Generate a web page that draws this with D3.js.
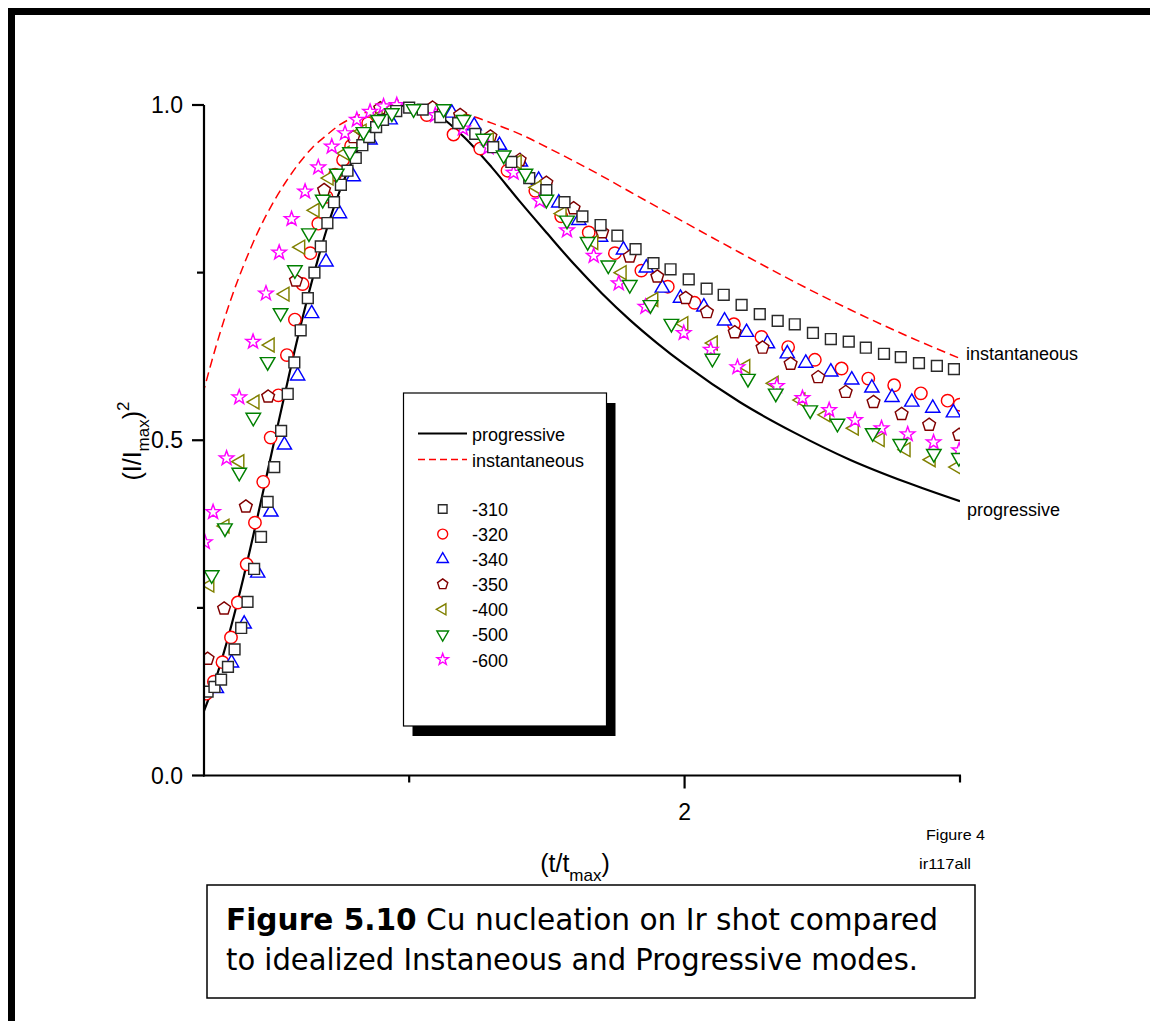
<!DOCTYPE html>
<html>
<head>
<meta charset="utf-8">
<script src="https://cdn.jsdelivr.net/npm/d3@7"></script>
<style>
  html, body { margin: 0; padding: 0; background: #fff; }
  svg { display: block; }
  text { font-family: "Liberation Sans", Arial, Helvetica, sans-serif; fill: #000; }
</style>
</head>
<body>
<svg id="chart" width="1156" height="1021"></svg>
<script>
// Normalised chronoamperometric transients, (t/tmax, (I/Imax)^2)
const seriesLabels = ["-310", "-320", "-340", "-350", "-400", "-500", "-600"];

const s310 = [[0.268,0.125],[0.293,0.132],[0.317,0.143],[0.342,0.162],[0.366,0.188],[0.390,0.220],[0.413,0.259],[0.437,0.308],[0.462,0.356],[0.486,0.408],[0.510,0.460],[0.535,0.514],[0.559,0.569],[0.583,0.616],[0.606,0.664],[0.632,0.712],[0.656,0.750],[0.679,0.789],[0.703,0.824],[0.727,0.855],[0.752,0.881],[0.776,0.902],[0.806,0.921],[0.830,0.940],[0.855,0.952],[0.880,0.967],[0.905,0.978],[0.953,0.991],[1.000,0.996],[1.049,0.993],[1.113,0.982],[1.178,0.973],[1.240,0.957],[1.305,0.937],[1.371,0.915],[1.436,0.891],[1.498,0.873],[1.564,0.855],[1.629,0.834],[1.695,0.821],[1.756,0.805],[1.822,0.785],[1.887,0.764],[1.949,0.755],[2.015,0.740],[2.080,0.726],[2.142,0.717],[2.207,0.702],[2.273,0.688],[2.338,0.678],[2.400,0.673],[2.466,0.660],[2.531,0.651],[2.596,0.647],[2.658,0.638],[2.724,0.629],[2.785,0.624],[2.851,0.615],[2.916,0.611],[2.978,0.606]];

const s320 = [[0.264,0.122],[0.291,0.140],[0.322,0.169],[0.353,0.206],[0.378,0.258],[0.410,0.315],[0.440,0.377],[0.470,0.438],[0.497,0.504],[0.525,0.567],[0.556,0.627],[0.585,0.680],[0.613,0.733],[0.641,0.779],[0.670,0.823],[0.700,0.863],[0.731,0.896],[0.760,0.918],[0.789,0.939],[0.822,0.955],[0.851,0.973],[0.884,0.983],[0.913,0.992],[1.064,0.985],[1.161,0.956],[1.258,0.935],[1.357,0.902],[1.458,0.872],[1.552,0.834],[1.652,0.810],[1.747,0.779],[1.843,0.753],[1.939,0.729],[2.036,0.705],[2.179,0.673],[2.279,0.654],[2.376,0.639],[2.473,0.620],[2.570,0.607],[2.667,0.592],[2.761,0.582],[2.858,0.570],[2.955,0.559],[2.999,0.553]];

const s340 = [[0.300,0.130],[0.355,0.168],[0.401,0.226],[0.450,0.302],[0.498,0.393],[0.547,0.493],[0.595,0.596],[0.646,0.689],[0.698,0.766],[0.747,0.838],[0.797,0.893],[0.858,0.948],[0.931,0.978],[1.155,0.988],[1.236,0.969],[1.328,0.940],[1.404,0.915],[1.470,0.888],[1.543,0.854],[1.616,0.828],[1.695,0.803],[1.778,0.784],[1.861,0.757],[1.919,0.727],[1.985,0.712],[2.070,0.699],[2.145,0.678],[2.225,0.661],[2.301,0.644],[2.373,0.629],[2.440,0.615],[2.531,0.602],[2.607,0.590],[2.680,0.578],[2.753,0.564],[2.825,0.557],[2.901,0.548],[2.976,0.541]];

const s350 = [[0.268,0.174],[0.328,0.249],[0.407,0.401],[0.488,0.565],[0.589,0.738],[0.691,0.873],[0.797,0.952],[0.895,0.995],[1.085,0.996],[1.185,0.985],[1.295,0.953],[1.401,0.918],[1.498,0.884],[1.597,0.846],[1.701,0.810],[1.801,0.774],[1.901,0.744],[2.004,0.712],[2.081,0.691],[2.182,0.661],[2.283,0.638],[2.385,0.614],[2.485,0.594],[2.585,0.572],[2.686,0.557],[2.788,0.539],[2.888,0.523],[2.997,0.508]];

const s400 = [[0.276,0.284],[0.331,0.372],[0.385,0.468],[0.440,0.557],[0.495,0.642],[0.549,0.718],[0.606,0.788],[0.658,0.843],[0.709,0.891],[0.767,0.928],[0.829,0.961],[0.887,0.982],[0.945,0.996],[1.189,0.976],[1.291,0.948],[1.392,0.915],[1.464,0.877],[1.555,0.838],[1.670,0.795],[1.773,0.750],[1.888,0.710],[1.997,0.674],[2.104,0.645],[2.222,0.610],[2.325,0.585],[2.422,0.560],[2.513,0.538],[2.616,0.518],[2.710,0.501],[2.804,0.486],[2.895,0.471],[2.988,0.460]];

const s500 = [[0.283,0.299],[0.331,0.369],[0.383,0.452],[0.434,0.534],[0.486,0.617],[0.533,0.690],[0.585,0.754],[0.636,0.809],[0.686,0.859],[0.737,0.898],[0.785,0.930],[0.834,0.960],[0.888,0.978],[0.937,0.988],[1.016,0.994],[1.125,0.994],[1.197,0.978],[1.269,0.950],[1.343,0.925],[1.422,0.898],[1.498,0.859],[1.573,0.828],[1.648,0.796],[1.723,0.761],[1.801,0.732],[1.876,0.702],[1.952,0.674],[2.101,0.622],[2.230,0.592],[2.331,0.570],[2.456,0.545],[2.555,0.525],[2.683,0.511],[2.783,0.495],[2.905,0.480],[2.996,0.474]];

const s600 = [[0.258,0.348],[0.288,0.393],[0.337,0.473],[0.383,0.564],[0.433,0.647],[0.480,0.719],[0.528,0.780],[0.573,0.830],[0.622,0.871],[0.670,0.907],[0.719,0.938],[0.767,0.958],[0.810,0.978],[0.858,0.990],[0.907,0.998],[0.955,1.000],[1.095,0.985],[1.195,0.965],[1.288,0.937],[1.379,0.899],[1.474,0.857],[1.573,0.813],[1.670,0.775],[1.761,0.734],[1.858,0.699],[1.997,0.660],[2.095,0.635],[2.192,0.609],[2.335,0.581],[2.428,0.563],[2.525,0.545],[2.619,0.530],[2.715,0.518],[2.810,0.509],[2.904,0.497],[2.997,0.485]];

// Theoretical nucleation curves sampled along t/tmax
const theoryT       = [0.25,0.30,0.35,0.40,0.45,0.50,0.55,0.60,0.65,0.70,0.75,0.80,0.85,0.90,0.95,1.00,1.10,1.20,1.30,1.40,1.50,1.60,1.70,1.80,1.90,2.00,2.20,2.40,2.60,2.80,3.00];
const progressive   = [0.091,0.147,0.217,0.298,0.387,0.480,0.572,0.661,0.742,0.814,0.874,0.922,0.958,0.982,0.996,1.000,0.986,0.952,0.907,0.857,0.809,0.762,0.719,0.680,0.645,0.613,0.557,0.511,0.471,0.438,0.409];
const instantaneous = [0.568,0.642,0.707,0.762,0.810,0.850,0.884,0.913,0.937,0.955,0.971,0.982,0.990,0.996,0.999,1.000,0.996,0.987,0.973,0.957,0.937,0.916,0.894,0.871,0.848,0.825,0.780,0.736,0.695,0.657,0.622];

const yTickValues = [0, 0.25, 0.5, 0.75, 1.0];
const yTickLabels = ["0.0", "", "0.5", "", "1.0"];
const xTickValues = [1, 2, 3];
const xTickLabels = ["", "2", ""];

// ---------------------------------------------------------------------------
const svg = d3.select("#chart");
const W = 1156, H = 1021;
const plot = { left: 204, right: 960, top: 105, bottom: 775.5 };

const x = d3.scaleLinear().domain([0.255, 3.0]).range([plot.left, plot.right]);
const y = d3.scaleLinear().domain([0, 1]).range([plot.bottom, plot.top]);

// page frame
svg.append("rect").attr("x", 8).attr("y", 8).attr("width", 1142).attr("height", 7).attr("fill", "#000");
svg.append("rect").attr("x", 8).attr("y", 8).attr("width", 7).attr("height", H - 8).attr("fill", "#000");

// clipping of the data area
svg.append("defs").append("clipPath").attr("id", "plotClip")
  .append("rect").attr("x", plot.left).attr("y", 60)
  .attr("width", plot.right - plot.left).attr("height", plot.bottom - 60);

// symbol shapes
function polygon(p, n, R, a0) {
  for (let i = 0; i < n; i++) {
    const a = a0 + i * 2 * Math.PI / n;
    const px = R * Math.cos(a), py = R * Math.sin(a);
    if (i === 0) p.moveTo(px, py); else p.lineTo(px, py);
  }
  p.closePath();
}
function star(p, R, r) {
  for (let i = 0; i < 10; i++) {
    const a = -Math.PI / 2 + i * Math.PI / 5;
    const rr = i % 2 === 0 ? R : r;
    const px = rr * Math.cos(a), py = rr * Math.sin(a);
    if (i === 0) p.moveTo(px, py); else p.lineTo(px, py);
  }
  p.closePath();
}
const shapes = {
  square: (p, k) => p.rect(-5.4 * k, -5.4 * k, 10.8 * k, 10.8 * k),
  circle: (p, k) => { p.moveTo(6.2 * k, 0); p.arc(0, 0, 6.2 * k, 0, 2 * Math.PI); },
  up:     (p, k) => polygon(p, 3, 8.2 * k, -Math.PI / 2),
  pent:   (p, k) => polygon(p, 5, 6.7 * k, -Math.PI / 2),
  left:   (p, k) => polygon(p, 3, 8.0 * k, Math.PI),
  down:   (p, k) => polygon(p, 3, 8.4 * k, Math.PI / 2),
  star:   (p, k) => star(p, 7.6 * k, 3.1 * k)
};
function symbolPath(shape, k) { const p = d3.path(); shapes[shape](p, k); return p.toString(); }

const series = [
  { label: seriesLabels[0], data: s310, shape: "square", color: "#2a2a2a" },
  { label: seriesLabels[1], data: s320, shape: "circle", color: "#ff0000" },
  { label: seriesLabels[2], data: s340, shape: "up",     color: "#0000ff" },
  { label: seriesLabels[3], data: s350, shape: "pent",   color: "#800000" },
  { label: seriesLabels[4], data: s400, shape: "left",   color: "#808000" },
  { label: seriesLabels[5], data: s500, shape: "down",   color: "#008000" },
  { label: seriesLabels[6], data: s600, shape: "star",   color: "#ff00ff" }
];

const dataLayer = svg.append("g").attr("clip-path", "url(#plotClip)");

// theory curves
const line = d3.line().x(d => x(d[0])).y(d => y(d[1])).curve(d3.curveMonotoneX);
dataLayer.append("path")
  .datum(theoryT.map((t, i) => [t, instantaneous[i]]))
  .attr("d", line).attr("fill", "none").attr("stroke", "#ff0000")
  .attr("stroke-width", 1.5).attr("stroke-dasharray", "9,5");
dataLayer.append("path")
  .datum(theoryT.map((t, i) => [t, progressive[i]]))
  .attr("d", line).attr("fill", "none").attr("stroke", "#000")
  .attr("stroke-width", 2.2);

// markers (drawing order keeps the dark squares above most others)
const drawOrder = [1, 2, 3, 4, 6, 0, 5];
drawOrder.forEach(idx => {
  const s = series[idx];
  dataLayer.append("g").selectAll("path").data(s.data).join("path")
    .attr("transform", d => `translate(${x(d[0])},${y(d[1])})`)
    .attr("d", symbolPath(s.shape, 1))
    .attr("fill", "#fff").attr("stroke", s.color).attr("stroke-width", 1.45);
});

// axes
const yAxis = svg.append("g");
yAxis.append("line").attr("x1", plot.left).attr("x2", plot.left)
  .attr("y1", y(1)).attr("y2", y(0) + 1).attr("stroke", "#000").attr("stroke-width", 2.2);
yTickValues.forEach((v, i) => {
  const major = yTickLabels[i] !== "";
  yAxis.append("line").attr("x1", plot.left - (major ? 12 : 7)).attr("x2", plot.left)
    .attr("y1", y(v)).attr("y2", y(v)).attr("stroke", "#000").attr("stroke-width", 2.2);
  if (major) yAxis.append("text").attr("x", plot.left - 21).attr("y", y(v) + 8)
    .attr("text-anchor", "end").style("font-size", "23px").text(yTickLabels[i]);
});

const xAxis = svg.append("g");
xAxis.append("line").attr("x1", plot.left - 1).attr("x2", plot.right + 1)
  .attr("y1", plot.bottom).attr("y2", plot.bottom).attr("stroke", "#000").attr("stroke-width", 2.2);
xTickValues.forEach((v, i) => {
  const major = xTickLabels[i] !== "";
  xAxis.append("line").attr("x1", x(v)).attr("x2", x(v))
    .attr("y1", plot.bottom).attr("y2", plot.bottom + (major ? 13 : 7))
    .attr("stroke", "#000").attr("stroke-width", 2.2);
  if (major) xAxis.append("text").attr("x", x(v)).attr("y", plot.bottom + 44)
    .attr("text-anchor", "middle").style("font-size", "23px").text(xTickLabels[i]);
});

// axis titles
const yTitle = svg.append("text").attr("transform", "translate(141,441) rotate(-90)")
  .attr("text-anchor", "middle").style("font-size", "25px");
yTitle.append("tspan").text("(I/I");
yTitle.append("tspan").attr("dy", 8).style("font-size", "17px").text("max");
yTitle.append("tspan").attr("dy", -8).text(")");
yTitle.append("tspan").attr("dy", -12).style("font-size", "17px").text("2");

const xTitle = svg.append("text").attr("x", 575).attr("y", 872)
  .attr("text-anchor", "middle").style("font-size", "25px");
xTitle.append("tspan").text("(t/t");
xTitle.append("tspan").attr("dy", 9).style("font-size", "17px").text("max");
xTitle.append("tspan").attr("dy", -9).text(")");

// end-of-curve labels
svg.append("text").attr("x", 966).attr("y", 360).style("font-size", "18px").text("instantaneous");
svg.append("text").attr("x", 967).attr("y", 516).style("font-size", "18px").text("progressive");

// small figure tags
svg.append("text").attr("x", 926).attr("y", 840).style("font-size", "15px")
  .attr("textLength", 59).attr("lengthAdjust", "spacingAndGlyphs").text("Figure 4");
svg.append("text").attr("x", 919).attr("y", 869).style("font-size", "15px")
  .attr("textLength", 52).attr("lengthAdjust", "spacingAndGlyphs").text("ir117all");

// legend
const lg = { x: 403.5, y: 393, w: 203, h: 333 };
svg.append("rect").attr("x", lg.x + 9).attr("y", lg.y + 10).attr("width", lg.w).attr("height", lg.h).attr("fill", "#000");
svg.append("rect").attr("x", lg.x).attr("y", lg.y).attr("width", lg.w).attr("height", lg.h)
  .attr("fill", "#fff").attr("stroke", "#000").attr("stroke-width", 1.2);
const legendLines = [
  { label: "progressive", color: "#000", dash: null, width: 2.2, yy: 433.5 },
  { label: "instantaneous", color: "#ff0000", dash: "7,4", width: 1.5, yy: 459.5 }
];
legendLines.forEach(l => {
  svg.append("line").attr("x1", 418).attr("x2", 467).attr("y1", l.yy).attr("y2", l.yy)
    .attr("stroke", l.color).attr("stroke-width", l.width).attr("stroke-dasharray", l.dash);
  svg.append("text").attr("x", 472).attr("y", l.yy + 7).style("font-size", "18px").text(l.label);
});
const legendY = d3.scaleLinear().domain([0, 6]).range([509, 659.5]);
series.forEach((s, i) => {
  svg.append("path").attr("transform", `translate(442.7,${legendY(i)})`)
    .attr("d", symbolPath(s.shape, 0.8)).attr("fill", "#fff")
    .attr("stroke", s.color).attr("stroke-width", 1.4);
  svg.append("text").attr("x", 472).attr("y", legendY(i) + 7).style("font-size", "18px").text(s.label);
});

// caption box
svg.append("rect").attr("x", 207).attr("y", 885).attr("width", 768).attr("height", 113)
  .attr("fill", "#fff").attr("stroke", "#000").attr("stroke-width", 1.5);
const cap1 = svg.append("text").attr("x", 226).attr("y", 930)
  .style("font-family", "'DejaVu Sans Condensed','DejaVu Sans',sans-serif").style("font-size", "30px")
  .attr("textLength", 712).attr("lengthAdjust", "spacingAndGlyphs");
cap1.append("tspan").style("font-weight", "bold").text("Figure 5.10");
cap1.append("tspan").text(" Cu nucleation on Ir shot compared");
svg.append("text").attr("x", 226).attr("y", 970)
  .style("font-family", "'DejaVu Sans Condensed','DejaVu Sans',sans-serif").style("font-size", "30px")
  .attr("textLength", 692).attr("lengthAdjust", "spacingAndGlyphs")
  .text("to idealized Instaneous and Progressive modes.");
</script>
</body>
</html>
